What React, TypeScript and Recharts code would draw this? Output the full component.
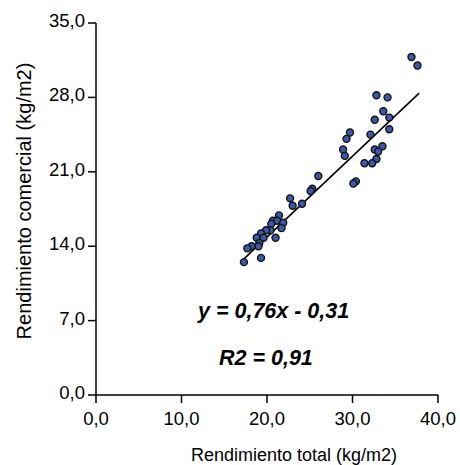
import React from "react";
import { ScatterChart, Scatter, XAxis, YAxis } from "recharts";

// Rendimiento total (x) vs comercial (y), kg/m2
const totalYield = [
  36.9, 37.6, 32.8, 34.1, 33.6, 34.3, 32.6, 34.3, 29.7, 29.3, 32.1, 28.9, 29.1, 32.6, 33.5,
  33.0, 32.8, 32.3, 31.4, 30.4, 30.1, 26.0, 25.3, 25.1, 22.7, 23.0, 24.1, 21.4, 20.7, 20.5,
  21.2, 21.9, 21.7, 20.4, 19.9, 19.3, 18.8, 19.6, 21.0, 19.1, 19.0, 18.2, 17.7, 19.3, 17.3,
];
const commercialYield = [
  31.8, 31.0, 28.2, 28.0, 26.7, 26.1, 25.9, 25.0, 24.7, 24.1, 24.5, 23.1, 22.5, 23.1, 23.4,
  22.9, 22.2, 21.8, 21.8, 20.1, 19.9, 20.6, 19.4, 19.2, 18.5, 17.8, 18.0, 16.9, 16.4, 16.1,
  16.4, 16.2, 15.7, 15.5, 15.5, 15.2, 14.8, 14.8, 14.8, 14.3, 14.0, 14.0, 13.8, 12.9, 12.5,
];
// ends of the fitted line as drawn
const fitX = [17.3, 37.8];
const fitY = [12.8, 28.4];

const xTicks = [0, 10, 20, 30, 40];
const yTicks = [0, 7, 14, 21, 28, 35];

const points = totalYield.map((x, i) => ({ x, y: commercialYield[i] }));
const fit = fitX.map((x, i) => ({ x, y: fitY[i] }));

const font = '"Liberation Sans", Arial, sans-serif';
const fmt = (v: number) => v.toFixed(1).replace(".", ",");

function XTick({ x, y, payload }: any) {
  return (
    <text x={x} y={y + 20} textAnchor="middle" fontSize={18.5} fontFamily={font} fill="#000">
      {fmt(payload.value)}
    </text>
  );
}

function YTick({ x, y, payload }: any) {
  return (
    <text x={x - 1} y={y + 4} textAnchor="end" fontSize={18.5} fontFamily={font} fill="#000">
      {fmt(payload.value)}
    </text>
  );
}

export default function App() {
  return (
    <div style={{ position: "absolute", left: 0, top: 0, width: 460, height: 465, background: "#fff", fontFamily: font }}>
      <ScatterChart width={460} height={465} margin={{ top: 23, right: 22, bottom: 10, left: 36 }}>
        <XAxis
          type="number"
          dataKey="x"
          domain={[0, 40]}
          ticks={xTicks}
          height={60}
          stroke="#000"
          strokeWidth={1.5}
          tickSize={8}
          tick={<XTick />}
        />
        <YAxis
          type="number"
          dataKey="y"
          domain={[0, 35]}
          ticks={yTicks}
          width={60}
          stroke="#000"
          strokeWidth={1.5}
          tickSize={8}
          tick={<YTick />}
        />
        <Scatter
          data={fit}
          line={{ stroke: "#000", strokeWidth: 1.6 }}
          shape={() => <g />}
          isAnimationActive={false}
        />
        <Scatter
          data={points}
          fill="#3b59a8"
          shape={(p: any) => <circle cx={p.cx} cy={p.cy} r={3.5} fill="#3b59a8" stroke="#111" strokeWidth={1.4} />}
          isAnimationActive={false}
        />
      </ScatterChart>
      <svg width={460} height={465} style={{ position: "absolute", left: 0, top: 0, pointerEvents: "none" }}>
        <text x={198} y={318} fontSize={21.5} fontWeight="bold" fontStyle="italic" fontFamily={font} fill="#000">
          y = 0,76x - 0,31
        </text>
        <text x={219} y={365} fontSize={21.5} fontWeight="bold" fontStyle="italic" fontFamily={font} fill="#000">
          R2 = 0,91
        </text>
        <text x={294} y={461} textAnchor="middle" fontSize={18} fontFamily={font} fill="#000">
          Rendimiento total (kg/m2)
        </text>
        <text x={31} y={201} textAnchor="middle" fontSize={20} fontFamily={font} fill="#000" transform="rotate(-90 31 201)">
          Rendimiento comercial (kg/m2)
        </text>
      </svg>
    </div>
  );
}
